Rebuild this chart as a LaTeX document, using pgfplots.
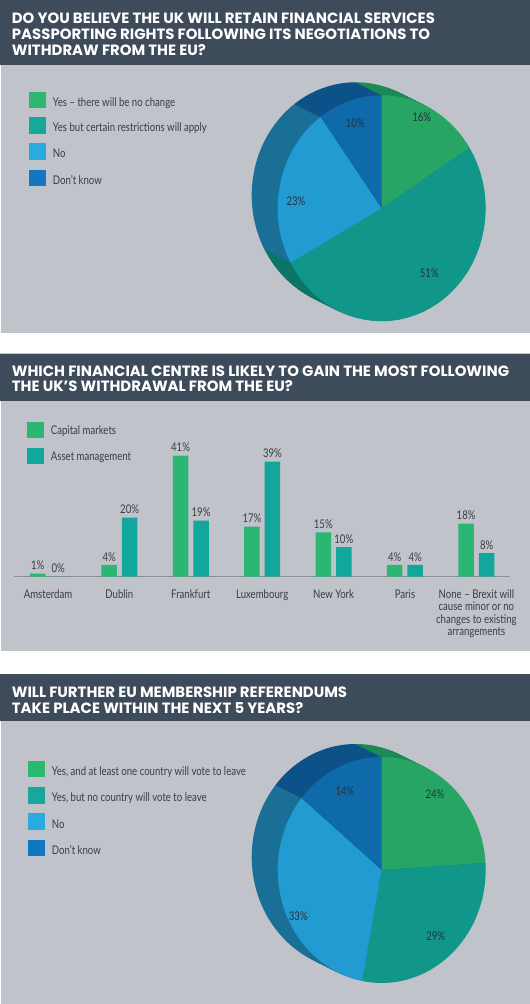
\documentclass[border=0pt]{standalone}
\usepackage{pgfplots}
\pgfplotsset{compat=1.18}
\usepackage{fontspec}
\setmainfont{Lato}[FakeStretch=0.8]
\newfontfamily\tfont{Poppins}
\definecolor{hdr}{HTML}{3E4B5A}
\definecolor{bodybg}{HTML}{C0C3CA}
\definecolor{txt}{HTML}{3A3D42}
\definecolor{pielbl}{HTML}{24343C}
\definecolor{lgA}{HTML}{2CB86F}
\definecolor{lgB}{HTML}{17A89B}
\definecolor{lgC}{HTML}{29ABE2}
\definecolor{lgD}{HTML}{1177C0}
\definecolor{frA}{HTML}{26A564}
\definecolor{frB}{HTML}{11968A}
\definecolor{frC}{HTML}{229BD2}
\definecolor{frD}{HTML}{0E6AAA}
\definecolor{sdA}{HTML}{1C8A56}
\definecolor{sdB}{HTML}{0C7568}
\definecolor{sdC}{HTML}{1A6F96}
\definecolor{sdD}{HTML}{0C5188}
\definecolor{cmg}{HTML}{2BB673}
\definecolor{amt}{HTML}{13A69D}
\definecolor{axl}{HTML}{8C9097}

% pie values (per cent)
\def\pOneA{16}\def\pOneB{51}\def\pOneC{23}\def\pOneD{10}
\def\pTwoA{24}\def\pTwoB{29}\def\pTwoC{33}\def\pTwoD{14}

\newcommand\lf{\fontsize{12}{12.2}\selectfont}
\newcommand\pieslice[5]{%
  \addplot[fill=#1, draw=none, domain=#3:#2, samples=40, variable=\t]
    ({104*cos(\t)+(#4)}, {113*sin(\t)+(#5)}) -- (axis cs:#4,#5) -- cycle;}
\newcommand\piedisk[7]{%
  \pgfmathsetmacro\bA{90-3.6*#4}%
  \pgfmathsetmacro\bB{\bA-3.6*#5}%
  \pgfmathsetmacro\bC{\bB-3.6*#6}%
  \pgfmathsetmacro\bD{\bC-3.6*#7}%
  \edef\doit{%
    \noexpand\pieslice{#1A}{90}{\bA}{#2}{#3}%
    \noexpand\pieslice{#1B}{\bA}{\bB}{#2}{#3}%
    \noexpand\pieslice{#1C}{\bB}{\bC}{#2}{#3}%
    \noexpand\pieslice{#1D}{\bC}{\bD}{#2}{#3}}%
  \doit}
\newcommand\fullpie[4]{%
  \pgfplotsinvokeforeach{20,19,...,1}{%
    \pgfmathsetmacro\dx{-26*##1/20}\pgfmathsetmacro\dy{13*##1/20}%
    \edef\doitb{\noexpand\piedisk{sd}{\dx}{\dy}{#1}{#2}{#3}{#4}}\doitb}%
  \piedisk{fr}{0}{0}{#1}{#2}{#3}{#4}}

\begin{document}
\begin{tikzpicture}[x=1pt,y=1pt]
\useasboundingbox (0,0) rectangle (530,1004);
\fill[white] (0,0) rectangle (530,1004);
\begin{scope}[yshift=1004pt, y=-1pt]
% ---------- panel backgrounds
\fill[hdr] (0,0) rectangle (530,65);
\fill[bodybg] (1,65) rectangle (530,333);
\fill[hdr] (0,353.3) rectangle (530,401);
\draw[color=white!70!hdr, line width=0.8pt] (0,353.5) -- (530,353.5);
\fill[bodybg] (1,401) rectangle (530,650.7);
\fill[hdr] (0,674) rectangle (530,721);
\fill[bodybg] (1,721) rectangle (530,1004);
% ---------- titles
\tikzset{ttl/.style={anchor=base west, text=white, inner sep=0pt,
  font=\tfont\bfseries\fontsize{14.9}{16}\selectfont}}
\node[ttl] at (11.7,23.3) {DO YOU BELIEVE THE UK WILL RETAIN FINANCIAL SERVICES};
\node[ttl] at (11.7,39.3) {PASSPORTING RIGHTS FOLLOWING ITS NEGOTIATIONS TO};
\node[ttl] at (11.7,55.3) {WITHDRAW FROM THE EU?};
\node[ttl] at (11.7,376.7) {WHICH FINANCIAL CENTRE IS LIKELY TO GAIN THE MOST FOLLOWING};
\node[ttl] at (11.7,391.7) {THE UK’S WITHDRAWAL FROM THE EU?};
\node[ttl] at (11.7,697.3) {WILL FURTHER EU MEMBERSHIP REFERENDUMS};
\node[ttl] at (11.7,713.3) {TAKE PLACE WITHIN THE NEXT 5 YEARS?};
% ---------- legends
\tikzset{lg/.style={anchor=base west, text=txt, inner sep=0pt, font=\lf}}
\fill[lgA] (29.3,91.7) rectangle (46,108.3);
\fill[lgB] (29.3,117.2) rectangle (46,133.8);
\fill[lgC] (29.3,143.2) rectangle (46,159.8);
\fill[lgD] (29.3,169.7) rectangle (46,186.3);
\node[lg] at (52.7,106.5) {Yes – there will be no change};
\node[lg] at (52.7,132) {Yes but certain restrictions will apply};
\node[lg] at (52.7,158) {No};
\node[lg] at (52.7,184.5) {Don’t know};

\fill[cmg] (27.3,421.7) rectangle (44,438.3);
\fill[amt] (27.3,447.7) rectangle (44,464.3);
\node[lg] at (50.7,434.5) {Capital markets};
\node[lg] at (50.7,460.5) {Asset management};

\fill[lgA] (28.3,760.7) rectangle (45,777.3);
\fill[lgB] (28.3,787) rectangle (45,803.6);
\fill[lgC] (28.3,813.4) rectangle (45,830);
\fill[lgD] (28.3,839.7) rectangle (45,856.3);
\node[lg] at (51.7,775.5) {Yes, and at least one country will vote to leave};
\node[lg] at (51.7,801.8) {Yes, but no country will vote to leave};
\node[lg] at (51.7,828.2) {No};
\node[lg] at (51.7,854.5) {Don’t know};
\end{scope}

% ---------- pie 1 (centre at image (381.7, 208.3))
\begin{axis}[at={(231.7pt,665.7pt)}, anchor=south west, x=1pt, y=1pt,
  xmin=-150, xmax=120, ymin=-130, ymax=140, hide axis, clip=false]
\fullpie{\pOneA}{\pOneB}{\pOneC}{\pOneD}
\end{axis}
% ---------- pie 2 (centre at image (381.7, 870))
\begin{axis}[at={(231.7pt,4pt)}, anchor=south west, x=1pt, y=1pt,
  xmin=-150, xmax=120, ymin=-130, ymax=140, hide axis, clip=false]
\fullpie{\pTwoA}{\pTwoB}{\pTwoC}{\pTwoD}
\end{axis}

\begin{scope}[yshift=1004pt, y=-1pt]
\tikzset{pl/.style={text=pielbl, inner sep=0pt, font=\lf}}
\node[pl] at (421.7,117.7) {16\%};
\node[pl] at (429.3,273.3) {51\%};
\node[pl] at (296,201.7) {23\%};
\node[pl] at (355.3,123.3) {10\%};
\node[pl] at (435,794) {24\%};
\node[pl] at (435.7,936.7) {29\%};
\node[pl] at (298.3,916.7) {33\%};
\node[pl] at (345,791.7) {14\%};
\end{scope}

% ---------- bar chart (baseline at image y 576.7)
\begin{axis}[at={(14pt,427.3pt)}, anchor=south west,
  x=71.4pt, y=2.95pt,
  xmin=-0.476, xmax=6.47, ymin=0, ymax=45,
  ybar=5pt, bar width=15.5pt,
  axis x line=bottom, axis y line=none,
  x axis line style={-, draw=axl, line width=0.8pt},
  xtick={0,...,6}, major tick length=0pt,
  xticklabels={Amsterdam, Dublin, Frankfurt, Luxembourg, New York, Paris,
    {None – Brexit will\\cause minor or no\\changes to existing\\arrangements}},
  xticklabel style={align=center, anchor=north, inner sep=0pt, yshift=-13pt,
    font=\lf, text=txt},
  /pgf/number format/assume math mode=true,
  nodes near coords={\pgfmathprintnumber{\pgfplotspointmeta}\%},
  nodes near coords style={font=\lf, text=txt, inner sep=0pt, anchor=south, yshift=3.5pt},
  clip=false]
\addplot[fill=cmg, draw=none] coordinates {(0,1) (1,4) (2,41) (3,17) (4,15) (5,4) (6,18)};
\addplot[fill=amt, draw=none] coordinates {(0,0) (1,20) (2,19) (3,39) (4,10) (5,4) (6,8)};
\end{axis}
\end{tikzpicture}
\end{document}
